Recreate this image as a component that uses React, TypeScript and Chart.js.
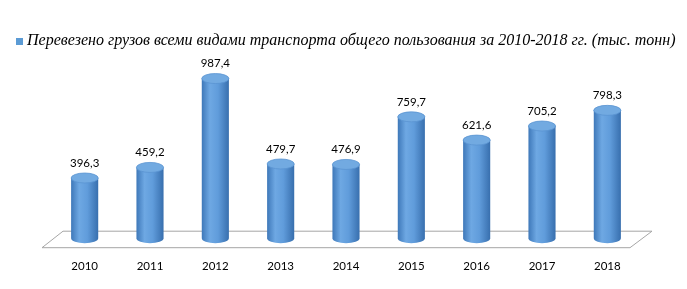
import React, { useEffect, useRef } from "react";
import { Chart, registerables } from "chart.js";

Chart.register(...registerables);

const categories = ["2010", "2011", "2012", "2013", "2014", "2015", "2016", "2017", "2018"];
const values = [396.3, 459.2, 987.4, 479.7, 476.9, 759.7, 621.6, 705.2, 798.3];
const valueLabels = ["396,3", "459,2", "987,4", "479,7", "476,9", "759,7", "621,6", "705,2", "798,3"];
const seriesName = "Перевезено грузов всеми видами транспорта общего пользования за 2010-2018 гг. (тыс. тонн)";

const RY = 5;

const legendPlugin = {
  id: "customLegend",
  afterDraw(chart: any) {
    const ctx = chart.ctx;
    ctx.save();
    ctx.fillStyle = "#5b9bd5";
    ctx.fillRect(16, 38, 7, 7);
    let size = 15;
    ctx.font = `italic ${size}px "Liberation Serif"`;
    const w = ctx.measureText(seriesName).width;
    size = Math.min(17, size * (649 / w));
    ctx.font = `italic ${size}px "Liberation Serif"`;
    ctx.fillStyle = "#000000";
    ctx.textAlign = "left";
    ctx.textBaseline = "middle";
    ctx.fillText(seriesName, 27, 41);
    ctx.restore();
  },
};

const cylinderPlugin = {
  id: "cylinders",
  beforeDatasetsDraw(chart: any) {
    const ctx = chart.ctx;
    const a = chart.chartArea;
    const backY = a.bottom - 13.5;
    const frontY = a.bottom + 3;
    ctx.save();
    ctx.beginPath();
    ctx.moveTo(a.left - 10, frontY);
    ctx.lineTo(a.left + 11, backY);
    ctx.lineTo(a.right + 12, backY);
    ctx.lineTo(a.right - 10, frontY);
    ctx.closePath();
    ctx.fillStyle = "#ffffff";
    ctx.fill();
    ctx.strokeStyle = "#a6a6a6";
    ctx.lineWidth = 1;
    ctx.stroke();
    ctx.restore();
  },
  afterDatasetsDraw(chart: any) {
    const ctx = chart.ctx;
    const meta = chart.getDatasetMeta(0);
    ctx.save();
    meta.data.forEach((bar: any, i: number) => {
      const p = bar.getProps(["x", "y", "base", "width"], true);
      const hw = p.width / 2;
      const x = p.x;
      const topY = p.y;
      const botY = p.base - 6.5;
      const g = ctx.createLinearGradient(x - hw, 0, x + hw, 0);
      g.addColorStop(0, "#3e78b9");
      g.addColorStop(0.3, "#6ea8e3");
      g.addColorStop(0.6, "#609cdb");
      g.addColorStop(1, "#386fae");
      ctx.beginPath();
      ctx.moveTo(x - hw, topY);
      ctx.lineTo(x - hw, botY);
      ctx.ellipse(x, botY, hw, RY, 0, Math.PI, 0, true);
      ctx.lineTo(x + hw, topY);
      ctx.closePath();
      ctx.fillStyle = g;
      ctx.fill();
      ctx.beginPath();
      ctx.ellipse(x, topY, hw, RY, 0, 0, Math.PI * 2);
      ctx.fillStyle = "#72aae1";
      ctx.fill();
      ctx.strokeStyle = "#5a94d2";
      ctx.lineWidth = 0.8;
      ctx.stroke();
      ctx.fillStyle = "#000000";
      ctx.font = "11.5px Lato";
      ctx.textAlign = "center";
      ctx.textBaseline = "middle";
      ctx.fillText(valueLabels[i], x, topY - 15);
    });
    ctx.restore();
  },
};

export default function App() {
  const ref = useRef<HTMLCanvasElement | null>(null);
  useEffect(() => {
    if (!ref.current) return;
    const chart = new Chart(ref.current, {
      type: "bar",
      data: {
        labels: categories,
        datasets: [
          {
            label: seriesName,
            data: values,
            backgroundColor: "rgba(0,0,0,0)",
            borderWidth: 0,
            categoryPercentage: 1,
            barPercentage: 0.415,
          },
        ],
      },
      options: {
        responsive: false,
        animation: false,
        devicePixelRatio: 1,
        layout: { padding: { top: 59.6, left: 52, right: 47, bottom: 9.5 } },
        plugins: {
          tooltip: { enabled: false },
          legend: { display: false },
        },
        scales: {
          x: {
            grid: { display: false },
            border: { display: false },
            ticks: { color: "#000000", font: { family: "Lato", size: 11.5 }, padding: 6.5 },
          },
          y: {
            display: false,
            min: 0,
            max: 1100,
          },
        },
      },
      plugins: [cylinderPlugin, legendPlugin],
    });
    return () => chart.destroy();
  }, []);
  return (
    <div style={{ position: "absolute", left: 0, top: 0, width: 687, height: 289, background: "#fff" }}>
      <canvas ref={ref} width={687} height={289} />
    </div>
  );
}
